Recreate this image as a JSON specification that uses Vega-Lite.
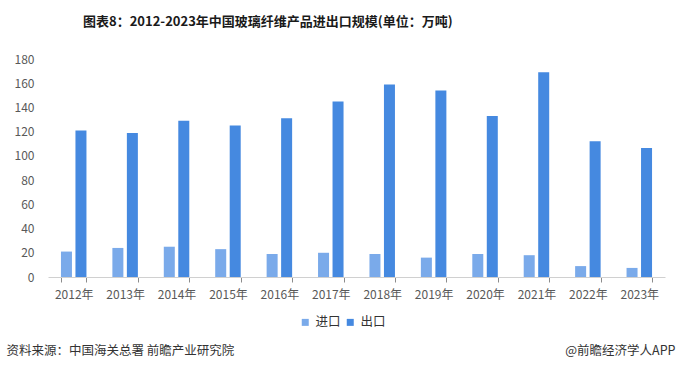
{
  "$schema": "https://vega.github.io/schema/vega-lite/v6.json",
  "width": 617,
  "height": 218,
  "autosize": {"type": "none"},
  "padding": {"left": 48, "top": 59, "right": 12, "bottom": 96},
  "background": "white",
  "title": {
    "text": "图表8：2012-2023年中国玻璃纤维产品进出口规模(单位：万吨)",
    "anchor": "start",
    "frame": "group",
    "dx": 35,
    "offset": 24,
    "font": "Noto Sans CJK SC",
    "fontSize": 13,
    "fontWeight": "bold",
    "color": "#1a1a1a"
  },
  "data": {
    "values": [
      {"year": "2012年", "type": "进口", "value": 21},
      {"year": "2012年", "type": "出口", "value": 121},
      {"year": "2013年", "type": "进口", "value": 24},
      {"year": "2013年", "type": "出口", "value": 119},
      {"year": "2014年", "type": "进口", "value": 25},
      {"year": "2014年", "type": "出口", "value": 129},
      {"year": "2015年", "type": "进口", "value": 23},
      {"year": "2015年", "type": "出口", "value": 125},
      {"year": "2016年", "type": "进口", "value": 19},
      {"year": "2016年", "type": "出口", "value": 131},
      {"year": "2017年", "type": "进口", "value": 20},
      {"year": "2017年", "type": "出口", "value": 145},
      {"year": "2018年", "type": "进口", "value": 19},
      {"year": "2018年", "type": "出口", "value": 159},
      {"year": "2019年", "type": "进口", "value": 16},
      {"year": "2019年", "type": "出口", "value": 154},
      {"year": "2020年", "type": "进口", "value": 19},
      {"year": "2020年", "type": "出口", "value": 133},
      {"year": "2021年", "type": "进口", "value": 18},
      {"year": "2021年", "type": "出口", "value": 169},
      {"year": "2022年", "type": "进口", "value": 9},
      {"year": "2022年", "type": "出口", "value": 112},
      {"year": "2023年", "type": "进口", "value": 7.5},
      {"year": "2023年", "type": "出口", "value": 106.5}
    ]
  },
  "mark": {"type": "bar"},
  "encoding": {
    "x": {
      "field": "year",
      "type": "nominal",
      "sort": null,
      "scale": {"paddingInner": 0.504, "paddingOuter": 0.252},
      "axis": {
        "title": "资料来源：中国海关总署 前瞻产业研究院",
        "titleAnchor": "start",
        "titleAlign": "left",
        "titleBaseline": "middle",
        "titleX": -42,
        "titleY": 73,
        "titleFont": "Noto Sans CJK SC",
        "titleFontSize": 12.5,
        "titleFontWeight": "normal",
        "titleColor": "#333333",
        "labelAngle": 0,
        "labelFont": "Noto Sans CJK SC",
        "labelFontSize": 12,
        "labelColor": "#595959",
        "labelPadding": 7,
        "tickBand": "extent",
        "tickSize": 5,
        "tickColor": "#8c8c8c",
        "domainColor": "#d0d0d0",
        "grid": false
      }
    },
    "xOffset": {
      "field": "type",
      "sort": ["进口", "出口"],
      "scale": {"paddingInner": 0.241, "paddingOuter": 0}
    },
    "y": {
      "field": "value",
      "type": "quantitative",
      "scale": {"domain": [0, 180]},
      "axis": {
        "values": [0, 20, 40, 60, 80, 100, 120, 140, 160, 180],
        "title": "@前瞻经济学人APP",
        "titleAngle": 0,
        "titleAlign": "right",
        "titleBaseline": "middle",
        "titleX": 627,
        "titleY": 291,
        "titleFont": "Noto Sans CJK SC",
        "titleFontSize": 12.5,
        "titleFontWeight": "normal",
        "titleColor": "#333333",
        "labelFont": "Noto Sans CJK SC",
        "labelFontSize": 12,
        "labelColor": "#595959",
        "labelPadding": 14,
        "domain": false,
        "ticks": false,
        "grid": false
      }
    },
    "color": {
      "field": "type",
      "type": "nominal",
      "sort": ["进口", "出口"],
      "scale": {"domain": ["进口", "出口"], "range": ["#7aaaea", "#4589e0"]},
      "legend": {
        "title": null,
        "orient": "none",
        "direction": "horizontal",
        "legendX": 251,
        "legendY": 257,
        "symbolType": "square",
        "symbolSize": 49,
        "symbolStrokeWidth": 0,
        "labelFont": "Noto Sans CJK SC",
        "labelFontSize": 12.5,
        "labelColor": "#333333",
        "labelOffset": 4,
        "columnPadding": 3,
        "padding": 0
      }
    }
  },
  "config": {
    "view": {"stroke": null}
  }
}
